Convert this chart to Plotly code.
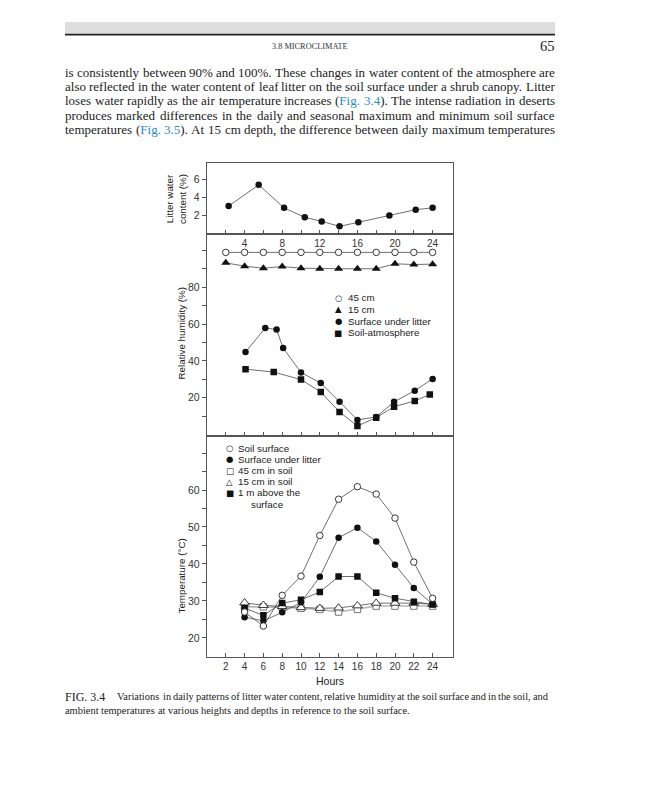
import re
import plotly.graph_objects as go

W, H = 647, 800

# ---------------- data ----------------
hour_ticks = [2, 4, 6, 8, 10, 12, 14, 16, 18, 20, 22, 24]
hour_tick_text = ["2", "4", "6", "8", "10", "12", "14", "16", "18", "20", "22", "24"]
top_hour_text = ["", "4", "", "8", "", "12", "", "16", "", "20", "", "24"]

litter_hours = [2.3, 5.5, 8.2, 10.4, 12.2, 14.1, 16.1, 19.4, 22.2, 24.0]
litter_water = [3.0, 5.35, 2.8, 1.75, 1.3, 0.75, 1.2, 1.95, 2.6, 2.8]
litter_ticks = [2, 4, 6]

rh_hours = [2, 4, 6, 8, 10, 12, 14, 16, 18, 20, 22, 24]
rh_45cm = [99, 99, 99, 99, 99, 99, 99, 99, 99, 99, 99, 99]
rh_15cm = [93.3, 91.5, 90.4, 91.3, 90.4, 90.1, 90.1, 90.1, 90.1, 92.8, 92.4, 92.6]
rh_surface_hours = [4.1, 6.2, 7.4, 8.1, 10.0, 12.1, 14.1, 16.0, 18.0, 19.9, 22.1, 24.0]
rh_surface = [44.8, 57.9, 57.0, 47.0, 33.7, 27.9, 17.8, 7.9, 9.5, 17.7, 23.8, 30.2]
rh_soilatm_hours = [4.1, 7.1, 10.0, 12.1, 14.1, 16.0, 18.0, 19.9, 22.1, 23.7]
rh_soilatm = [35.5, 33.9, 29.8, 23.1, 12.2, 4.6, 9.1, 15.1, 18.2, 21.7]
rh_ticks = [10, 20, 30, 40, 50, 60, 70, 80, 90, 100]
rh_tick_text = ["", "20", "", "40", "", "60", "", "80", "", ""]

temp_hours = [4, 6, 8, 10, 12, 14, 16, 18, 20, 22, 24]
t_soil_surface = [27.0, 23.2, 31.5, 36.7, 47.7, 57.5, 60.9, 58.9, 52.4, 40.5, 30.7]
t_under_litter = [25.6, 24.6, 26.9, 29.6, 36.5, 47.1, 49.8, 46.1, 39.8, 33.5, 29.1]
t_45cm = [28.4, 28.4, 28.3, 28.0, 27.7, 27.0, 27.7, 28.6, 28.6, 28.6, 28.6]
t_15cm = [29.5, 28.8, 28.5, 28.2, 28.0, 28.1, 28.7, 29.4, 29.4, 29.4, 29.1]
t_1m_above = [28.0, 26.1, 29.4, 30.3, 32.4, 36.6, 36.6, 32.2, 30.7, 29.8, 29.0]
temp_ticks = [20, 25, 30, 35, 40, 45, 50, 55, 60, 65, 70]
temp_tick_text = ["20", "", "30", "", "40", "", "50", "", "60", "", ""]

mid_legend_symbols = ["○", "▲", "●", "■"]
mid_legend_labels = ["45 cm", "15 cm", "Surface under litter", "Soil-atmosphere"]
bot_legend_symbols = ["○", "●", "□", "△", "■"]
bot_legend_labels = ["Soil surface", "Surface under litter", "45 cm in soil", "15 cm in soil", "1 m above the"]
bot_legend_cont = "surface"

header_section = "3.8 MICROCLIMATE"
header_page = "65"
body_lines = [
    "is consistently between 90% and 100%. These changes in water content of the atmosphere are",
    "also reflected in the water content of leaf litter on the soil surface under a shrub canopy. Litter",
    "loses water rapidly as the air temperature increases ({Fig.} {3.4}). The intense radiation in deserts",
    "produces marked differences in the daily and seasonal maximum and minimum soil surface",
    "temperatures ({Fig.} {3.5}). At 15 cm depth, the difference between daily maximum temperatures",
]
caption_label = "FIG. 3.4"
caption_line1 = "Variations in daily patterns of litter water content, relative humidity at the soil surface and in the soil, and"
caption_line2 = "ambient temperatures at various heights and depths in reference to the soil surface."

# ---------------- helpers ----------------
TIMES_W = {' ': 250, '!': 333, '%': 833, '(': 333, ')': 333, ',': 250, '-': 333, '.': 250,
           ':': 278, ';': 278, '0': 500, '1': 500, '2': 500, '3': 500, '4': 500, '5': 500,
           '6': 500, '7': 500, '8': 500, '9': 500,
           'A': 722, 'B': 667, 'C': 667, 'D': 722, 'E': 611, 'F': 556, 'G': 722, 'H': 722,
           'I': 333, 'J': 389, 'K': 722, 'L': 611, 'M': 889, 'N': 722, 'O': 722, 'P': 556,
           'Q': 722, 'R': 667, 'S': 556, 'T': 611, 'U': 722, 'V': 722, 'W': 944, 'X': 722,
           'Y': 722, 'Z': 611,
           'a': 444, 'b': 500, 'c': 444, 'd': 500, 'e': 444, 'f': 333, 'g': 500, 'h': 500,
           'i': 278, 'j': 278, 'k': 500, 'l': 278, 'm': 778, 'n': 500, 'o': 500, 'p': 500,
           'q': 500, 'r': 333, 's': 389, 't': 278, 'u': 500, 'v': 500, 'w': 722, 'x': 500,
           'y': 500, 'z': 444}
LINK = "#2b8cc4"
SERIF = "Liberation Serif"
SANS = "Liberation Sans, Arial, sans-serif"
INK = "#222222"

def em(s):
    s = s.replace("{", "").replace("}", "")
    return sum(TIMES_W.get(c, 500) for c in s) / 1000.0

annotations = []

def px(x):
    return x / W

def py(y):
    return 1 - y / H

def put(text, x, y, size, family=SANS, color=INK, xanchor="left", angle=0):
    annotations.append(dict(text=text, x=px(x), y=py(y), xref="paper", yref="paper",
                            showarrow=False, xanchor=xanchor, yanchor="middle",
                            textangle=angle, borderpad=0, borderwidth=0,
                            font=dict(family=family, size=size, color=color)))

def word_markup(w):
    return w.replace("{", '<span style="color:%s">' % LINK).replace("}", "</span>")

def set_line(text, x0, x1, y, size, justify=True):
    words = text.split(" ")
    widths = [em(w) * size for w in words]
    if justify and len(words) > 1:
        gap = (x1 - x0 - sum(widths)) / (len(words) - 1)
    else:
        gap = TIMES_W[' '] / 1000.0 * size
    x = x0
    for w, wd in zip(words, widths):
        put(word_markup(w), x, y, size, family=SERIF, color=INK)
        x += wd + gap

# ---------------- figure ----------------
fig = go.Figure()
LINE = dict(color="#4a4a4a", width=0.8)

def filled(sym, size):
    return dict(symbol=sym, size=size, color="#111111", line=dict(width=0))

def hollow(sym, size, edge="#222222"):
    return dict(symbol=sym, size=size, color="white", line=dict(color=edge, width=0.9))

# top panel
fig.add_trace(go.Scatter(x=litter_hours, y=litter_water, mode="lines+markers", line=LINE,
                         marker=filled("circle", 6.5), xaxis="x3", yaxis="y3"))
# middle panel
fig.add_trace(go.Scatter(x=rh_hours, y=rh_45cm, mode="lines+markers", line=LINE,
                         marker=hollow("circle", 6.5), xaxis="x2", yaxis="y2"))
fig.add_trace(go.Scatter(x=rh_hours, y=rh_15cm, mode="lines+markers", line=LINE,
                         marker=filled("triangle-up", 8), xaxis="x2", yaxis="y2"))
fig.add_trace(go.Scatter(x=rh_surface_hours, y=rh_surface, mode="lines+markers", line=LINE,
                         marker=filled("circle", 6.5), xaxis="x2", yaxis="y2"))
fig.add_trace(go.Scatter(x=rh_soilatm_hours, y=rh_soilatm, mode="lines+markers", line=LINE,
                         marker=filled("square", 6.5), xaxis="x2", yaxis="y2"))
# bottom panel
fig.add_trace(go.Scatter(x=temp_hours, y=t_45cm, mode="lines+markers",
                         line=dict(color="#b5b5b5", width=1.6),
                         marker=hollow("square", 6.5, "#666666"), xaxis="x", yaxis="y"))
fig.add_trace(go.Scatter(x=temp_hours, y=t_15cm, mode="lines+markers", line=LINE,
                         marker=hollow("triangle-up", 8.5), xaxis="x", yaxis="y"))
fig.add_trace(go.Scatter(x=temp_hours, y=t_1m_above, mode="lines+markers", line=LINE,
                         marker=filled("square", 6.5), xaxis="x", yaxis="y"))
fig.add_trace(go.Scatter(x=temp_hours, y=t_under_litter, mode="lines+markers", line=LINE,
                         marker=filled("circle", 6.5), xaxis="x", yaxis="y"))
fig.add_trace(go.Scatter(x=temp_hours, y=t_soil_surface, mode="lines+markers", line=LINE,
                         marker=hollow("circle", 6.5), xaxis="x", yaxis="y"))

XL, XR = 206.7, 453.3
x_dom = [px(XL), px(XR)]
top_dom = [py(234.0), py(162.5)]
mid_dom = [py(435.7), py(234.0)]
bot_dom = [py(656.7), py(435.7)]
x_range = [-0.03, 26.2]

axis_common = dict(showline=True, linecolor="#555555", linewidth=1, mirror=True,
                   showgrid=False, zeroline=False, tickcolor="#555555", tickwidth=1,
                   ticklen=4, tickfont=dict(family=SANS, size=10.5, color="#333333"))

fig.update_layout(
    width=W, height=H, autosize=False,
    margin=dict(l=0, r=0, t=0, b=0),
    paper_bgcolor="white", plot_bgcolor="white",
    showlegend=False,
    xaxis=dict(axis_common, domain=x_dom, anchor="y", range=x_range, ticks="inside",
               tickmode="array", tickvals=hour_ticks, ticktext=hour_tick_text,
               tickfont=dict(family=SANS, size=10, color="#333333")),
    yaxis=dict(axis_common, domain=bot_dom, anchor="x", range=[14.9, 74.7], ticks="outside",
               tickmode="array", tickvals=temp_ticks, ticktext=temp_tick_text),
    xaxis2=dict(axis_common, domain=x_dom, anchor="y2", range=x_range, ticks="inside",
                tickmode="array", tickvals=hour_ticks, showticklabels=False),
    yaxis2=dict(axis_common, domain=mid_dom, anchor="x2", range=[-0.7, 109.0], ticks="outside",
                tickmode="array", tickvals=rh_ticks, ticktext=rh_tick_text),
    xaxis3=dict(axis_common, domain=x_dom, anchor="y3", range=x_range, ticks="inside",
                tickmode="array", tickvals=hour_ticks, ticktext=top_hour_text,
                tickfont=dict(family=SANS, size=10, color="#333333")),
    yaxis3=dict(axis_common, domain=top_dom, anchor="x3", range=[-0.1, 7.83], ticks="outside",
                tickmode="array", tickvals=litter_ticks),
)

# axis titles
put("Litter water<br>content (%)", 176, 199, 9.8, angle=-90, xanchor="center")
put("Relative humidity (%)", 180.5, 333, 9.8, angle=-90, xanchor="center")
put("Temperature (°C)", 180.5, 576, 9.8, angle=-90, xanchor="center")
put("Hours", 330, 681, 10.5, xanchor="center")

# legends
for i, (s, lab) in enumerate(zip(mid_legend_symbols, mid_legend_labels)):
    yy = 297.7 + i * 11.7
    put(s, 338.5, yy, 8.5, family="DejaVu Sans", color="#111111", xanchor="center")
    put(lab, 347.5, yy, 9.8)
for i, (s, lab) in enumerate(zip(bot_legend_symbols, bot_legend_labels)):
    yy = 448.3 + i * 11.1
    put(s, 229.5, yy, 8.5, family="DejaVu Sans", color="#111111", xanchor="center")
    put(lab, 237.5, yy, 9.8)
put(bot_legend_cont, 267, 504, 9.8, xanchor="center")

# page header
shapes = [
    dict(type="rect", xref="paper", yref="paper", x0=px(65), x1=px(555), y0=py(34), y1=py(22),
         fillcolor="#dedede", line=dict(width=0), layer="below"),
    dict(type="line", xref="paper", yref="paper", x0=px(65), x1=px(555), y0=py(34.6), y1=py(34.6),
         line=dict(color="#222222", width=1.6)),
]
put(header_section, 310, 46.5, 8.3, family=SERIF, color="#333333", xanchor="center")
put(header_page, 555, 45.5, 14.5, family=SERIF, color=INK, xanchor="right")

# body text (justified)
body_ys = [72.7, 86.7, 100.7, 115.0, 129.0]
fs_body = min(13.0, 489.0 / max(em(l) for l in body_lines))
for line, yy in zip(body_lines, body_ys):
    set_line(line, 65, 555, yy, fs_body, justify=True)

# caption
put(caption_label, 65, 696.7, 12, family=SERIF, color=INK)
w1 = sum(em(w) for w in caption_line1.split(" ")) + 0.2 * (len(caption_line1.split(" ")) - 1)
fs_cap = min(348.0 / em(caption_line2), 430.7 / w1)
set_line(caption_line1, 117.3, 548, 696.7, fs_cap, justify=True)
set_line(caption_line2, 65, 555, 710.7, fs_cap, justify=False)

fig.update_layout(annotations=annotations, shapes=shapes)

fig.write_html("out.html", config={"displayModeBar": False},
               post_script="document.body.style.margin='0';")
